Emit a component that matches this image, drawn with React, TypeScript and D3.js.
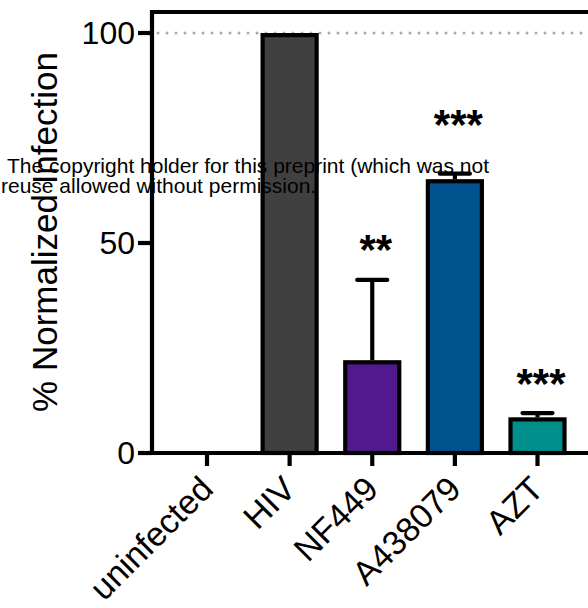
import React from "react";
import * as d3 from "d3";

const categories = ["uninfected", "HIV", "NF449", "A438079", "AZT"];
const means = [0, 100, 22.1, 65.2, 8.5];
const errorTops = [0, 100, 41.2, 66.5, 9.5];
const stars = ["", "", "**", "***", "***"];
const starLevels = [0, 0, 49.2, 79.0, 17.2];
const barColors = ["#ffffff", "#404040", "#521a8e", "#00538f", "#008f8a"];
const yTicks = [0, 50, 100];
const yTitle = "% Normalized Infection";
const watermark = [
  "The copyright holder for this preprint (which was not",
  "reuse allowed without permission.",
];

export default function App() {
  const W = 588;
  const H = 608;
  const font = "'Liberation Sans', Arial, sans-serif";
  const y = d3.scaleLinear().domain([0, 100]).range([453, 33]);
  const x = d3.scalePoint<string>().domain(categories).range([207, 537.5]);
  const axisX = 152;
  const topY = y(105);
  const barW = 54;
  const sw = 4.2;
  const starFs = 42;

  return (
    <svg
      width={W}
      height={H}
      style={{ position: "absolute", left: 0, top: 0, background: "#fff" }}
      fontFamily={font}
    >
      {/* dotted reference line */}
      <line
        x1={axisX + 6}
        x2={W}
        y1={y(100)}
        y2={y(100)}
        stroke="#aaaaaa"
        strokeWidth={3}
        strokeDasharray="0 9"
        strokeLinecap="round"
      />
      {/* bars */}
      {categories.map((c, i) => {
        const cx = x(c)!;
        if (means[i] <= 0) return null;
        return (
          <rect
            key={c}
            x={cx - barW / 2}
            y={y(means[i]) + sw / 2}
            width={barW}
            height={y(0) - y(means[i]) - sw / 2}
            fill={barColors[i]}
            stroke="#000"
            strokeWidth={sw}
          />
        );
      })}
      {/* error bars */}
      {categories.map((c, i) => {
        const cx = x(c)!;
        if (errorTops[i] <= means[i]) return null;
        return (
          <g key={"e" + c} stroke="#000" strokeWidth={sw}>
            <line x1={cx} x2={cx} y1={y(means[i])} y2={y(errorTops[i])} />
            <line
              x1={cx - 15}
              x2={cx + 15}
              y1={y(errorTops[i])}
              y2={y(errorTops[i])}
              strokeLinecap="round"
            />
          </g>
        );
      })}
      {/* stars */}
      {categories.map((c, i) =>
        stars[i] ? (
          <text
            key={"s" + c}
            x={x(c)! + 3.5}
            y={y(starLevels[i]) + 0.42 * starFs}
            textAnchor="middle"
            fontSize={starFs}
            fontWeight="bold"
            fill="#000"
          >
            {stars[i]}
          </text>
        ) : null
      )}
      {/* frame */}
      <line x1={axisX} x2={W} y1={topY} y2={topY} stroke="#000" strokeWidth={sw} />
      <line x1={axisX} x2={axisX} y1={topY - sw / 2} y2={y(0) + sw / 2} stroke="#000" strokeWidth={sw} />
      <line x1={axisX - 14} x2={W} y1={y(0)} y2={y(0)} stroke="#000" strokeWidth={sw} />
      {/* y ticks */}
      {yTicks.map((t) => (
        <g key={"y" + t}>
          <line x1={axisX - 14} x2={axisX} y1={y(t)} y2={y(t)} stroke="#000" strokeWidth={sw} />
          <text
            x={axisX - 17}
            y={y(t)}
            dy="0.35em"
            textAnchor="end"
            fontSize={32}
            fill="#000"
          >
            {t}
          </text>
        </g>
      ))}
      {/* x ticks & labels */}
      {categories.map((c) => {
        const cx = x(c)!;
        return (
          <g key={"x" + c}>
            <line x1={cx} x2={cx} y1={y(0)} y2={y(0) + 13} stroke="#000" strokeWidth={sw} />
            <text
              transform={`translate(${cx + 8},${y(0) + 38}) rotate(-45)`}
              textAnchor="end"
              fontSize={34}
              fill="#000"
            >
              {c}
            </text>
          </g>
        );
      })}
      {/* y title */}
      <text
        transform={`translate(57,232) rotate(-90)`}
        textAnchor="middle"
        fontSize={35}
        fill="#000"
      >
        {yTitle}
      </text>
      {/* watermark */}
      <text x={7} y={172.7} fontSize={21} fill="#000">
        {watermark[0]}
      </text>
      <text x={1} y={192.7} fontSize={21} fill="#000">
        {watermark[1]}
      </text>
    </svg>
  );
}
